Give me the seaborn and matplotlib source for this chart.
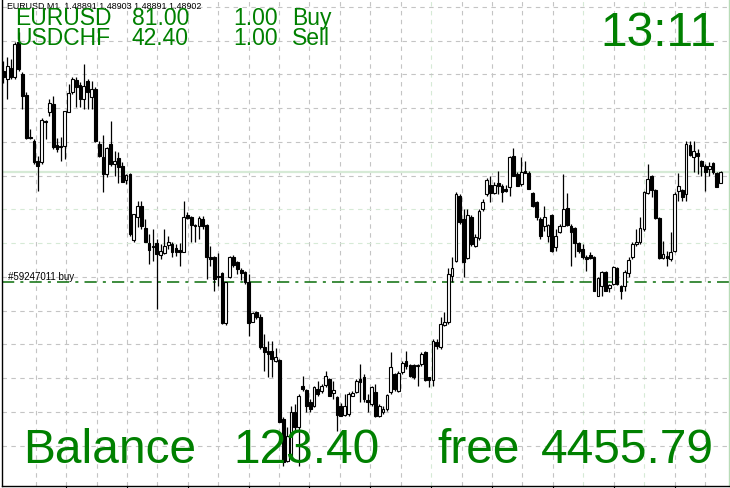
import matplotlib
matplotlib.use("Agg")
import matplotlib.pyplot as plt
import numpy as np
import pandas as pd
import seaborn as sns

sns.set_theme(style="white")
plt.rcParams['font.family'] = ['Liberation Sans', 'DejaVu Sans']

# EURUSD M1 bars, oldest first
opens = [1.49003, 1.48995, 1.49006, 1.48997, 1.49032, 1.49000, 1.48979, 1.48937, 1.48933, 1.48913,
         1.48912, 1.48953, 1.48962, 1.48970, 1.48929, 1.48928, 1.48928, 1.48962, 1.48982, 1.48994,
         1.48989, 1.48975, 1.48993, 1.48977, 1.48985, 1.48930, 1.48917, 1.48900, 1.48930, 1.48910,
         1.48916, 1.48908, 1.48894, 1.48900, 1.48834, 1.48857, 1.48868, 1.48846, 1.48831, 1.48828,
         1.48831, 1.48819, 1.48821, 1.48829, 1.48830, 1.48826, 1.48824, 1.48822, 1.48859, 1.48857,
         1.48849, 1.48848, 1.48855, 1.48849, 1.48817, 1.48817, 1.48798, 1.48801, 1.48751, 1.48797,
         1.48817, 1.48812, 1.48804, 1.48802, 1.48792, 1.48752, 1.48762, 1.48757, 1.48727, 1.48723,
         1.48723, 1.48713, 1.48714, 1.48655, 1.48613, 1.48618, 1.48662, 1.48647, 1.48688, 1.48684,
         1.48672, 1.48668, 1.48685, 1.48683, 1.48689, 1.48695, 1.48681, 1.48677, 1.48668, 1.48659,
         1.48660, 1.48678, 1.48682, 1.48695, 1.48697, 1.48674, 1.48670, 1.48682, 1.48658, 1.48662,
         1.48665, 1.48682, 1.48700, 1.48683, 1.48702, 1.48713, 1.48709, 1.48709, 1.48708, 1.48710,
         1.48722, 1.48697, 1.48694, 1.48732, 1.48727, 1.48749, 1.48752, 1.48798, 1.48813, 1.48878,
         1.48855, 1.48816, 1.48857, 1.48828, 1.48836, 1.48865, 1.48880, 1.48889, 1.48881, 1.48891,
         1.48888, 1.48885, 1.48887, 1.48918, 1.48900, 1.48890, 1.48903, 1.48901, 1.48881, 1.48872,
         1.48855, 1.48848, 1.48838, 1.48859, 1.48827, 1.48842, 1.48848, 1.48866, 1.48848, 1.48846,
         1.48831, 1.48825, 1.48817, 1.48819, 1.48817, 1.48778, 1.48788, 1.48802, 1.48786, 1.48790,
         1.48806, 1.48788, 1.48788, 1.48801, 1.48817, 1.48830, 1.48832, 1.48845, 1.48881, 1.48898,
         1.48884, 1.48856, 1.48816, 1.48818, 1.48815, 1.48823, 1.48883, 1.48884, 1.48880, 1.48929,
         1.48917, 1.48921, 1.48913, 1.48908, 1.48905, 1.48911, 1.48901, 1.48891]
highs = [1.49013, 1.49017, 1.49015, 1.49032, 1.49042, 1.49002, 1.48982, 1.48945, 1.48935, 1.48918,
         1.48956, 1.48954, 1.48975, 1.48978, 1.48936, 1.48937, 1.48963, 1.48990, 1.48997, 1.48997,
         1.48992, 1.49010, 1.48995, 1.48993, 1.48987, 1.48933, 1.48939, 1.48927, 1.48953, 1.48923,
         1.48922, 1.48912, 1.48900, 1.48901, 1.48860, 1.48873, 1.48873, 1.48855, 1.48840, 1.48845,
         1.48835, 1.48830, 1.48845, 1.48838, 1.48832, 1.48830, 1.48831, 1.48873, 1.48862, 1.48858,
         1.48850, 1.48858, 1.48858, 1.48850, 1.48828, 1.48818, 1.48821, 1.48802, 1.48792, 1.48818,
         1.48819, 1.48813, 1.48806, 1.48803, 1.48800, 1.48762, 1.48763, 1.48760, 1.48740, 1.48733,
         1.48733, 1.48726, 1.48715, 1.48657, 1.48647, 1.48668, 1.48670, 1.48680, 1.48698, 1.48685,
         1.48675, 1.48688, 1.48693, 1.48690, 1.48703, 1.48696, 1.48693, 1.48678, 1.48671, 1.48680,
         1.48682, 1.48683, 1.48695, 1.48710, 1.48700, 1.48680, 1.48688, 1.48690, 1.48670, 1.48668,
         1.48680, 1.48722, 1.48701, 1.48703, 1.48713, 1.48723, 1.48710, 1.48710, 1.48710, 1.48722,
         1.48723, 1.48697, 1.48735, 1.48735, 1.48757, 1.48762, 1.48806, 1.48817, 1.48882, 1.48880,
         1.48865, 1.48865, 1.48859, 1.48840, 1.48865, 1.48875, 1.48896, 1.48898, 1.48892, 1.48903,
         1.48890, 1.48889, 1.48918, 1.48926, 1.48902, 1.48917, 1.48913, 1.48903, 1.48882, 1.48873,
         1.48857, 1.48868, 1.48850, 1.48860, 1.48845, 1.48850, 1.48900, 1.48881, 1.48850, 1.48847,
         1.48832, 1.48830, 1.48819, 1.48822, 1.48818, 1.48797, 1.48803, 1.48803, 1.48790, 1.48808,
         1.48807, 1.48789, 1.48804, 1.48817, 1.48832, 1.48845, 1.48857, 1.48883, 1.48910, 1.48899,
         1.48885, 1.48857, 1.48833, 1.48823, 1.48842, 1.48882, 1.48901, 1.48885, 1.48933, 1.48933,
         1.48933, 1.48925, 1.48914, 1.48910, 1.48912, 1.48912, 1.48902, 1.48903]
lows = [1.48991, 1.48975, 1.48995, 1.48995, 1.49003, 1.48965, 1.48935, 1.48935, 1.48910, 1.48883,
        1.48910, 1.48935, 1.48958, 1.48925, 1.48922, 1.48913, 1.48915, 1.48962, 1.48980, 1.48967,
        1.48967, 1.48965, 1.48965, 1.48965, 1.48932, 1.48917, 1.48882, 1.48897, 1.48908, 1.48898,
        1.48891, 1.48892, 1.48890, 1.48838, 1.48832, 1.48847, 1.48845, 1.48832, 1.48810, 1.48813,
        1.48765, 1.48815, 1.48820, 1.48825, 1.48817, 1.48818, 1.48808, 1.48822, 1.48855, 1.48832,
        1.48832, 1.48835, 1.48845, 1.48795, 1.48808, 1.48783, 1.48788, 1.48750, 1.48749, 1.48796,
        1.48807, 1.48800, 1.48794, 1.48790, 1.48738, 1.48752, 1.48755, 1.48725, 1.48703, 1.48697,
        1.48697, 1.48712, 1.48652, 1.48608, 1.48612, 1.48615, 1.48643, 1.48608, 1.48683, 1.48662,
        1.48662, 1.48667, 1.48678, 1.48681, 1.48687, 1.48678, 1.48675, 1.48643, 1.48658, 1.48658,
        1.48658, 1.48678, 1.48681, 1.48672, 1.48672, 1.48662, 1.48668, 1.48657, 1.48657, 1.48660,
        1.48663, 1.48680, 1.48683, 1.48682, 1.48700, 1.48705, 1.48697, 1.48695, 1.48688, 1.48708,
        1.48693, 1.48687, 1.48688, 1.48725, 1.48725, 1.48748, 1.48750, 1.48792, 1.48812, 1.48850,
        1.48797, 1.48815, 1.48828, 1.48827, 1.48834, 1.48863, 1.48878, 1.48872, 1.48880, 1.48880,
        1.48872, 1.48882, 1.48878, 1.48898, 1.48888, 1.48888, 1.48901, 1.48885, 1.48867, 1.48854,
        1.48835, 1.48843, 1.48832, 1.48822, 1.48823, 1.48841, 1.48848, 1.48848, 1.48808, 1.48817,
        1.48821, 1.48815, 1.48803, 1.48815, 1.48783, 1.48778, 1.48778, 1.48783, 1.48782, 1.48789,
        1.48789, 1.48775, 1.48783, 1.48797, 1.48815, 1.48828, 1.48830, 1.48843, 1.48880, 1.48877,
        1.48855, 1.48815, 1.48815, 1.48808, 1.48813, 1.48822, 1.48873, 1.48873, 1.48873, 1.48918,
        1.48902, 1.48900, 1.48898, 1.48883, 1.48898, 1.48900, 1.48887, 1.48891]
closes = [1.48997, 1.49008, 1.48997, 1.49030, 1.49005, 1.48978, 1.48936, 1.48936, 1.48912, 1.48908,
          1.48954, 1.48952, 1.48971, 1.48927, 1.48925, 1.48927, 1.48963, 1.48981, 1.48995, 1.48987,
          1.48975, 1.48988, 1.48982, 1.48985, 1.48933, 1.48918, 1.48900, 1.48926, 1.48910, 1.48913,
          1.48907, 1.48892, 1.48899, 1.48840, 1.48860, 1.48868, 1.48848, 1.48832, 1.48824, 1.48827,
          1.48820, 1.48823, 1.48828, 1.48832, 1.48822, 1.48822, 1.48822, 1.48857, 1.48856, 1.48849,
          1.48848, 1.48856, 1.48848, 1.48817, 1.48815, 1.48795, 1.48797, 1.48751, 1.48792, 1.48817,
          1.48809, 1.48805, 1.48801, 1.48792, 1.48751, 1.48761, 1.48757, 1.48727, 1.48722, 1.48720,
          1.48715, 1.48717, 1.48652, 1.48612, 1.48638, 1.48662, 1.48647, 1.48678, 1.48685, 1.48668,
          1.48665, 1.48687, 1.48680, 1.48688, 1.48698, 1.48678, 1.48684, 1.48659, 1.48658, 1.48668,
          1.48680, 1.48681, 1.48693, 1.48692, 1.48675, 1.48672, 1.48687, 1.48658, 1.48668, 1.48665,
          1.48679, 1.48707, 1.48685, 1.48701, 1.48711, 1.48708, 1.48698, 1.48697, 1.48709, 1.48720,
          1.48694, 1.48694, 1.48733, 1.48728, 1.48750, 1.48752, 1.48800, 1.48806, 1.48880, 1.48852,
          1.48812, 1.48859, 1.48830, 1.48837, 1.48863, 1.48872, 1.48894, 1.48881, 1.48889, 1.48888,
          1.48882, 1.48883, 1.48917, 1.48898, 1.48888, 1.48902, 1.48901, 1.48885, 1.48868, 1.48857,
          1.48838, 1.48857, 1.48849, 1.48823, 1.48838, 1.48848, 1.48865, 1.48849, 1.48842, 1.48831,
          1.48823, 1.48817, 1.48815, 1.48816, 1.48783, 1.48796, 1.48802, 1.48783, 1.48789, 1.48807,
          1.48790, 1.48783, 1.48802, 1.48814, 1.48830, 1.48832, 1.48846, 1.48882, 1.48895, 1.48884,
          1.48856, 1.48816, 1.48820, 1.48816, 1.48822, 1.48880, 1.48888, 1.48877, 1.48930, 1.48919,
          1.48923, 1.48918, 1.48908, 1.48902, 1.48908, 1.48902, 1.48887, 1.48902]

order_ticket = 59247011
order_price = 1.48792
symbols = ["EURUSD", "USDCHF"]
profits = [81.00, 42.40]
lot_sizes = [1.00, 1.00]
sides = ["Buy", "Sell"]
clock = "13:11"
balance = 123.40
free_margin = 4455.79

GREEN = "#008000"
PALE = "#d6ead6"
GRID = "#c4c4c4"

df = pd.DataFrame({"open": opens, "high": highs, "low": lows, "close": closes})
df["bar"] = np.arange(len(df))
up = df["close"] >= df["open"]

W, H = 730, 489
fig = plt.figure(figsize=(W / 100, H / 100), dpi=100)
ax = fig.add_axes([2 / W, 2.5 / H, 727 / W, 486.5 / H])

top_price = 1.49075
pt = 1e-5
ax.set_ylim(top_price - 486.5 * pt, top_price)
ax.set_xlim(-0.34, 189.18)

# grid, a few lines tinted pale green like the screenshot
vgrid = 8.45 + 7.93 * np.arange(0, 23)
for k, gx in enumerate(vgrid):
    col = PALE if k in (13, 18, 20) else GRID
    ax.axvline(gx, color=col, lw=0.8, ls=(0, (4, 4)), zorder=1)
hgrid = top_price - (7.95 + 33.75 * np.arange(0, 14)) * pt
for j, gy in enumerate(hgrid):
    col = PALE if j in (6, 7) else GRID
    ax.axhline(gy, color=col, lw=0.8, ls=(0, (4, 4)), zorder=1)

# bid line
ax.axhline(closes[-1], color=PALE, lw=1.6, zorder=2)

# order line
ax.axhline(order_price, color="#0a6e0a", lw=1.1, ls=(0, (8, 4, 2, 4)), zorder=2)
ax.text(-0.34 + 1.6, order_price + 2.5 * pt, f"#{order_ticket} buy", fontsize=7,
        color="black", ha="left", va="baseline", zorder=6)

# candles
ax.vlines(df["bar"], df["low"], df["high"], color="black", lw=0.9, zorder=3)
body_lo = df[["open", "close"]].min(axis=1)
body_h = (df["close"] - df["open"]).abs()
ax.bar(df["bar"], body_h, bottom=body_lo, width=0.72,
       color=np.where(up, "white", "black"), edgecolor="black", linewidth=0.8, zorder=4)

ax.set_xticks(vgrid[1::2])
ax.set_xticklabels([])
ax.set_yticks([])
ax.tick_params(axis="x", direction="out", length=3, width=0.8, color="black", bottom=True)
ax.spines["top"].set_visible(False)
ax.spines["right"].set_color("#b8dcb8")
ax.spines["left"].set_color("black")
ax.spines["bottom"].set_color("black")
for s in ("left", "bottom", "right"):
    ax.spines[s].set_linewidth(1.0)
ax.set_facecolor("white")
fig.patch.set_facecolor("white")


def put(x, y, s, size, color):
    fig.text(x / W, 1 - y / H, s, fontsize=size, color=color, ha="left", va="baseline")


put(7, 9, f"EURUSD,M1  {opens[-1]:.5f} {highs[-1]:.5f} {lows[-1]:.5f} {closes[-1]:.5f}", 6.4, "black")
for i in range(len(symbols)):
    yb = 25 + 20 * i
    put(15, yb, symbols[i], 16.5, GREEN)
    put(132, yb, f"{profits[i]:.2f}", 16.5, GREEN)
    put(233, yb, f"{lot_sizes[i]:.2f}", 16.5, GREEN)
    put(292, yb, sides[i], 16.5, GREEN)

put(600, 46, clock, 34.5, GREEN)
put(23, 463, "Balance", 34.5, GREEN)
put(233, 463, f"{balance:.2f}", 34.5, GREEN)
put(437, 463, "free", 34.5, GREEN)
put(541, 463, f"{free_margin:.2f}", 34.5, GREEN)

fig.savefig("out.png", dpi=100)
